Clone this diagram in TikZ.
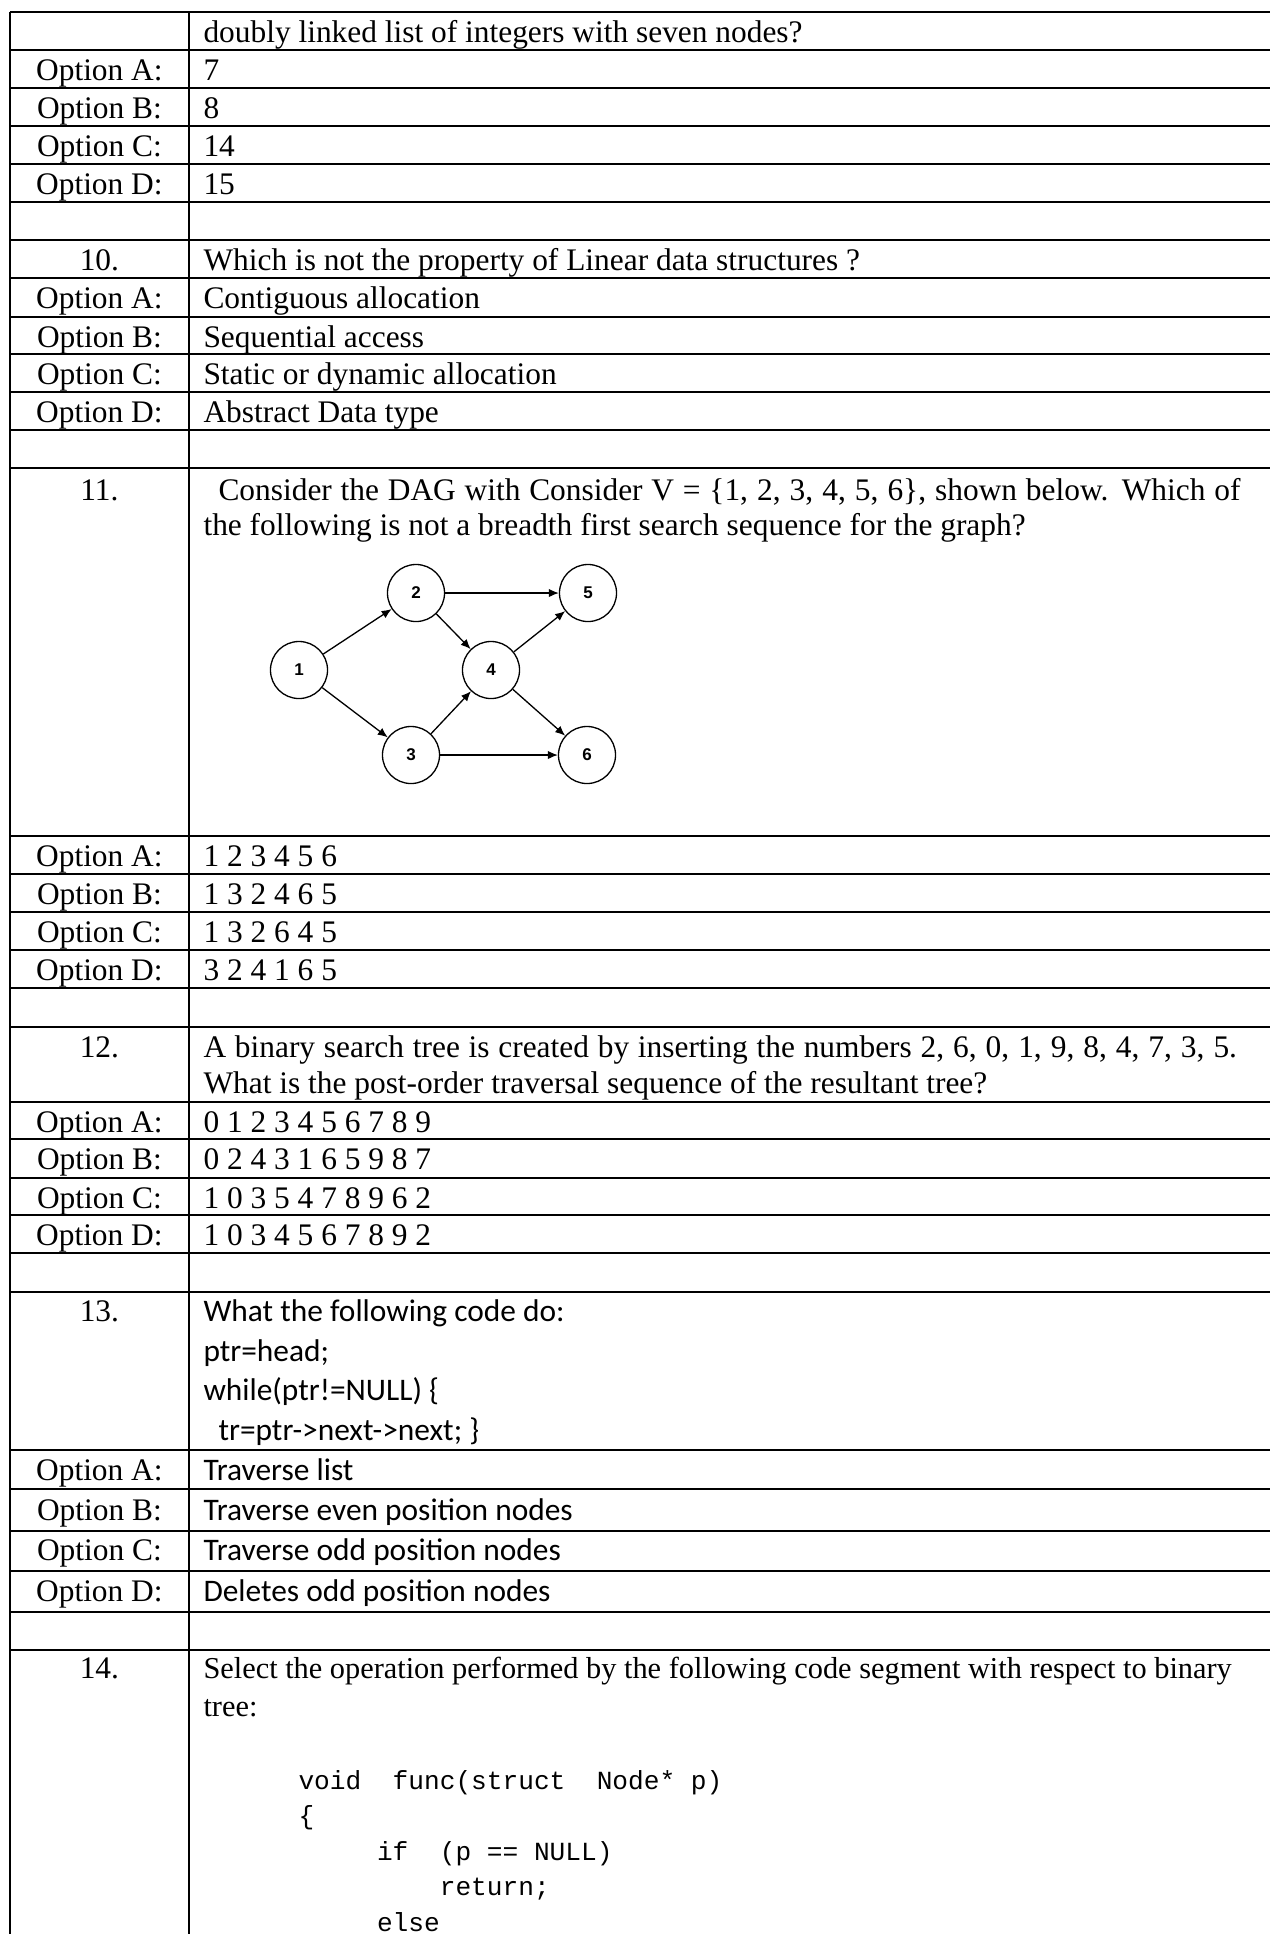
\documentclass[tikz,border=0pt]{standalone}
\usepackage{fontspec}
\setmainfont{Liberation Serif}
\newfontfamily\calibrifont{Carlito}
\newfontfamily\courierfont{Liberation Mono}
\newfontfamily\vertexfont{Liberation Sans}
\usetikzlibrary{arrows.meta}

\begin{document}
\begin{tikzpicture}[x=0.3822pt,y=-0.3822pt,
  rule/.style={line width=0.75pt},
  qcell/.style={anchor=base west,inner sep=0pt,font=\fontsize{12}{14}\selectfont},
  qlab/.style={anchor=base,inner sep=0pt,font=\fontsize{12}{14}\selectfont},
  qsmall/.style={anchor=base west,inner sep=0pt,font=\fontsize{11.6}{14}\selectfont},
  ccell/.style={anchor=base west,inner sep=0pt,font=\calibrifont\fontsize{12}{14}\selectfont},
  codeline/.style={anchor=base west,inner sep=0pt,font=\courierfont\fontsize{10}{12}\selectfont},
  vert/.style={circle,draw,line width=0.5pt,minimum size=21.8pt,inner sep=0pt,
    font=\vertexfont\bfseries\fontsize{6.5}{7}\selectfont},
  arc/.style={line width=0.5pt,-{Latex[length=3.8pt,width=3.2pt]}}
]
\useasboundingbox (0,0) rectangle (1270,1934);
\fill[white] (0,0) rectangle (1270,1934);

% table rules
\foreach \yy in {12.3,50,88,126,164,202,240,278,316.7,354,392.3,430.3,468.3,
  835.7,874,912,950,988,1026.7,1101.7,1139.3,1177.7,1215.3,1253.3,1291.7,
  1450,1489.3,1531,1571,1611.7,1650}
  \draw[rule] (9.8,\yy) -- (1270,\yy);
\draw[rule] (9.8,12.3) -- (9.8,1934);
\draw[rule] (189,12.3) -- (189,1934);

% question 9 (continued)
\node[qcell] (q9) at (203,42.6) {doubly linked list of integers with seven nodes?};
\node[qlab] (l9a) at (99.4,80.3) {Option A:};
\node[qcell] (a9a) at (203,80.3) {7};
\node[qlab] (l9b) at (99.4,118.3) {Option B:};
\node[qcell] (a9b) at (203,118.3) {8};
\node[qlab] (l9c) at (99.4,156.3) {Option C:};
\node[qcell] (a9c) at (203,156.3) {14};
\node[qlab] (l9d) at (99.4,194.3) {Option D:};
\node[qcell] (a9d) at (203,194.3) {15};

% question 10
\node[qlab] (n10) at (99.4,270.3) {10.};
\node[qcell] (q10) at (203,270.3) {Which is not the property of Linear data structures ?};
\node[qlab] (l10a) at (99.4,308.3) {Option A:};
\node[qcell] (a10a) at (203,308.3) {Contiguous allocation};
\node[qlab] (l10b) at (99.4,347) {Option B:};
\node[qcell] (a10b) at (203,347) {Sequential access};
\node[qlab] (l10c) at (99.4,384.3) {Option C:};
\node[qcell] (a10c) at (203,384.3) {Static or dynamic allocation};
\node[qlab] (l10d) at (99.4,422.6) {Option D:};
\node[qcell] (a10d) at (203,422.6) {Abstract Data type};

% question 11 (first line is justified to the cell width)
\node[qlab] (n11) at (99.4,500) {11.};
\node[qcell] (q11a) at (218,500) {\makebox[390.6pt][s]{Consider the DAG with Consider V = \{1, 2, 3, 4, 5, 6\}, shown below. Which of}};
\node[qcell] (q11b) at (203,535) {the following is not a breadth first search sequence for the graph?};

% the DAG
\node[vert] (v1) at (299,670) {1};
\node[vert] (v2) at (416,593) {2};
\node[vert] (v3) at (411,755) {3};
\node[vert] (v4) at (491,670) {4};
\node[vert] (v5) at (588,593) {5};
\node[vert] (v6) at (587,755) {6};
\draw[arc] (v1) -- (v2);
\draw[arc] (v2) -- (v5);
\draw[arc] (v2) -- (v4);
\draw[arc] (v4) -- (v5);
\draw[arc] (v1) -- (v3);
\draw[arc] (v3) -- (v4);
\draw[arc] (v4) -- (v6);
\draw[arc] (v3) -- (v6);

\node[qlab] (l11a) at (99.4,866) {Option A:};
\node[qcell] (a11a) at (203,866) {1 2 3 4 5 6};
\node[qlab] (l11b) at (99.4,904.3) {Option B:};
\node[qcell] (a11b) at (203,904.3) {1 3 2 4 6 5};
\node[qlab] (l11c) at (99.4,942.3) {Option C:};
\node[qcell] (a11c) at (203,942.3) {1 3 2 6 4 5};
\node[qlab] (l11d) at (99.4,980.3) {Option D:};
\node[qcell] (a11d) at (203,980.3) {3 2 4 1 6 5};

% question 12
\node[qlab] (n12) at (99.4,1057) {12.};
\node[qcell] (q12a) at (203,1057) {\makebox[395pt][s]{A binary search tree is created by inserting the numbers 2, 6, 0, 1, 9, 8, 4, 7, 3, 5.}};
\node[qcell] (q12b) at (203,1093) {What is the post-order traversal sequence of the resultant tree?};
\node[qlab] (l12a) at (99.4,1132) {Option A:};
\node[qcell] (a12a) at (203,1132) {0 1 2 3 4 5 6 7 8 9};
\node[qlab] (l12b) at (99.4,1169.6) {Option B:};
\node[qcell] (a12b) at (203,1169.6) {0 2 4 3 1 6 5 9 8 7};
\node[qlab] (l12c) at (99.4,1208) {Option C:};
\node[qcell] (a12c) at (203,1208) {1 0 3 5 4 7 8 9 6 2};
\node[qlab] (l12d) at (99.4,1245.6) {Option D:};
\node[qcell] (a12d) at (203,1245.6) {1 0 3 4 5 6 7 8 9 2};

% question 13
\node[qlab] (n13) at (99.4,1321.7) {13.};
\node[ccell] (q13a) at (203,1321.7) {What the following code do:};
\node[ccell] (q13b) at (203,1361) {ptr=head;};
\node[ccell] (q13c) at (203,1400.5) {while(ptr!=NULL) \{};
\node[ccell] (q13d) at (218,1440) {tr=ptr->next->next; \}};
\node[qlab] (l13a) at (99.4,1480) {Option A:};
\node[ccell] (a13a) at (203,1480) {Traverse list};
\node[qlab] (l13b) at (99.4,1520) {Option B:};
\node[ccell] (a13b) at (203,1520) {Traverse even position nodes};
\node[qlab] (l13c) at (99.4,1560.7) {Option C:};
\node[ccell] (a13c) at (203,1560.7) {Traverse odd position nodes};
\node[qlab] (l13d) at (99.4,1601) {Option D:};
\node[ccell] (a13d) at (203,1601) {Deletes odd position nodes};

% question 14
\node[qlab] (n14) at (99.4,1678) {14.};
\node[qsmall] (q14a) at (203,1678) {Select the operation performed by the following code segment with respect to binary};
\node[qsmall] (q14b) at (203,1716.7) {tree:};
\node[codeline] (c1) at (298,1789) {void\ \ func(struct\ \ Node* p)};
\node[codeline] (c2) at (298,1824.5) {\{};
\node[codeline] (c3) at (376.5,1860) {if\ \ (p == NULL)};
\node[codeline] (c4) at (439.3,1895.5) {return;};
\node[codeline] (c5) at (376.5,1931) {else};
\end{tikzpicture}
\end{document}
